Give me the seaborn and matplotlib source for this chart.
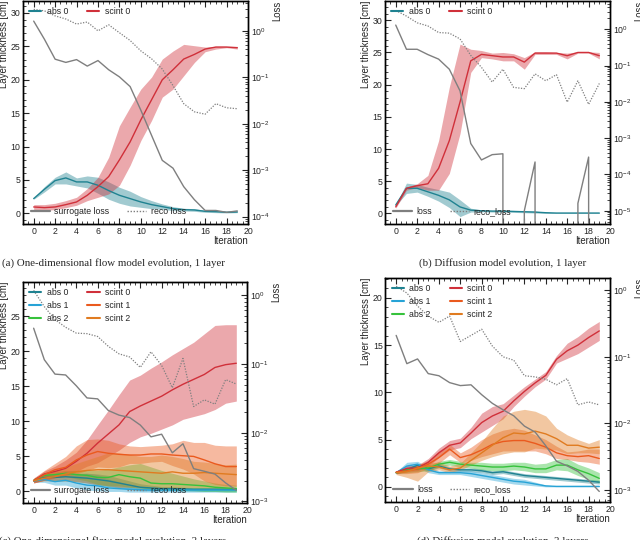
import numpy as np
import matplotlib
matplotlib.use('Agg')
import matplotlib.pyplot as plt
import seaborn as sns
from matplotlib.lines import Line2D
from matplotlib.ticker import MultipleLocator, AutoMinorLocator, LogLocator

# iterations on the x axis
iterations = np.arange(20)

# (a) one-dimensional flow model, 1 layer
a_abs0 = [2.2, 3.6, 4.9, 5.3, 4.7, 4.7, 4.2, 3.4, 2.7, 2.2, 1.7, 1.3, 1.0, 0.7, 0.55, 0.5, 0.3, 0.25, 0.15, 0.2]
a_abs0_lo = [2.1, 3.2, 4.4, 4.4, 4.1, 3.8, 3.0, 2.1, 1.5, 1.1, 0.9, 0.7, 0.6, 0.4, 0.35, 0.3, 0.15, 0.1, 0.05, 0.1]
a_abs0_hi = [2.3, 4.0, 5.4, 6.2, 5.3, 5.6, 5.4, 4.7, 3.9, 3.3, 2.5, 1.9, 1.4, 1.0, 0.75, 0.7, 0.45, 0.4, 0.3, 0.35]
a_scint0 = [0.95, 0.85, 0.95, 1.3, 1.7, 2.7, 4.0, 5.5, 8.0, 10.7, 14.0, 17.0, 20.0, 21.5, 23.1, 23.8, 24.6, 24.9, 24.9, 24.8]
a_scint0_lo = [0.55, 0.45, 0.55, 0.85, 1.2, 1.9, 2.4, 2.9, 4.2, 7.2, 10.9, 13.9, 17.4, 18.6, 20.6, 22.6, 24.2, 24.6, 24.8, 24.6]
a_scint0_hi = [1.3, 1.3, 1.5, 1.9, 2.4, 3.7, 5.4, 8.4, 13.1, 15.9, 18.6, 20.4, 23.1, 24.3, 25.3, 25.1, 24.9, 25.0, 25.0, 25.0]
a_surrogate = [1.62, 0.66, 0.245, 0.209, 0.24, 0.174, 0.229, 0.145, 0.102, 0.063, 0.0195, 0.0056, 0.00162, 0.0011,
               0.00044, 0.00023, 0.000135, 0.000135, 0.000123, 0.000132]
a_reco = [2.9, 2.7, 2.1, 1.8, 1.4, 1.55, 1.0, 1.35, 0.91, 0.62, 0.37, 0.25, 0.15, 0.066, 0.027, 0.018, 0.016, 0.027, 0.022, 0.021]

# (b) diffusion model, 1 layer
b_abs0 = [1.3, 3.9, 3.9, 3.35, 2.8, 2.1, 1.0, 0.5, 0.4, 0.35, 0.35, 0.3, 0.25, 0.2, 0.1, 0.05, 0.05, 0.05, 0.05, 0.05]
b_abs0_lo = [1.2, 3.1, 3.3, 2.65, 1.9, 0.9, -0.5, 0.2, 0.25, 0.2, 0.2, 0.15, 0.1, 0.05, 0.0, 0.0, 0.0, 0.0, 0.0, 0.0]
b_abs0_hi = [1.4, 4.7, 4.5, 4.05, 3.7, 3.3, 2.1, 0.8, 0.55, 0.5, 0.5, 0.45, 0.4, 0.35, 0.2, 0.1, 0.1, 0.1, 0.1, 0.1]
b_scint0 = [1.0, 3.9, 4.3, 4.6, 7.0, 11.3, 17.3, 23.7, 24.7, 24.5, 24.3, 24.3, 23.5, 24.9, 24.9, 24.9, 24.5, 25.0, 25.0, 24.5]
b_scint0_lo = [0.8, 3.6, 4.0, 3.6, 3.6, 6.2, 12.4, 21.9, 24.2, 24.0, 23.7, 23.7, 22.4, 24.7, 24.7, 24.7, 24.0, 24.9, 24.9, 24.0]
b_scint0_hi = [1.2, 4.1, 4.6, 5.9, 11.3, 19.6, 26.3, 25.5, 25.3, 24.9, 25.0, 24.8, 24.2, 25.1, 25.1, 25.0, 24.9, 25.1, 25.1, 25.0]
b_loss = [1.3, 0.28, 0.28, 0.2, 0.15, 0.079, 0.02, 7.1e-4, 2.5e-4, 3.5e-4, 3.7e-4, 0.0, 1.0e-5, 2.2e-4, 0.0, 0.0, 0.0,
          1.6e-5, 3.0e-4, 0.0]
b_reco = [3.3, 2.3, 1.5, 1.23, 0.81, 0.78, 0.54, 0.19, 0.089, 0.035, 0.079, 0.025, 0.023, 0.059, 0.038, 0.056, 0.0098,
          0.038, 0.0085, 0.032]

# (c) one-dimensional flow model, 3 layers
c_abs0 = [1.5, 2.0, 2.0, 2.1, 2.0, 1.9, 1.7, 1.5, 1.2, 0.9, 0.6, 0.5, 0.4, 0.4, 0.35, 0.3, 0.3, 0.3, 0.3, 0.3]
c_abs0_lo = [1.3, 1.6, 1.5, 1.5, 1.4, 1.2, 0.9, 0.7, 0.5, 0.3, 0.1, 0.1, 0.1, 0.1, 0.1, 0.05, 0.05, 0.05, 0.05, 0.05]
c_abs0_hi = [1.7, 2.4, 2.5, 2.7, 2.6, 2.6, 2.5, 2.3, 1.9, 1.5, 1.1, 0.9, 0.7, 0.7, 0.6, 0.55, 0.55, 0.55, 0.55, 0.55]
c_abs1 = [1.5, 1.7, 1.4, 1.6, 1.2, 0.9, 0.8, 0.5, 0.4, 0.3, 0.25, 0.2, 0.2, 0.2, 0.2, 0.2, 0.2, 0.2, 0.2, 0.2]
c_abs1_lo = [1.3, 1.3, 0.9, 0.9, 0.5, 0.2, 0.1, 0.0, 0.0, -0.1, -0.1, -0.1, -0.1, -0.1, -0.1, -0.1, -0.1, -0.1, -0.1, -0.1]
c_abs1_hi = [1.7, 2.1, 1.9, 2.3, 2.5, 2.6, 2.4, 1.8, 1.4, 1.0, 0.7, 0.6, 0.6, 0.5, 0.5, 0.5, 0.5, 0.5, 0.5, 0.5]
c_abs2 = [1.6, 2.3, 2.4, 2.6, 2.4, 2.3, 2.0, 2.0, 2.4, 2.1, 1.9, 1.2, 1.1, 1.1, 1.0, 0.9, 0.8, 0.6, 0.5, 0.4]
c_abs2_lo = [1.4, 2.0, 2.0, 2.1, 1.8, 1.5, 1.0, 0.8, 0.8, 0.6, 0.5, 0.3, 0.3, 0.2, 0.1, 0.1, 0.0, 0.0, -0.1, -0.1]
c_abs2_hi = [1.8, 2.6, 2.8, 3.0, 3.0, 3.1, 3.0, 3.2, 3.5, 3.8, 4.0, 3.5, 3.0, 2.6, 2.2, 1.8, 1.5, 1.2, 1.0, 0.9]
c_scint0 = [1.55, 2.5, 2.85, 3.3, 4.3, 5.45, 6.9, 8.2, 9.5, 11.4, 12.2, 12.9, 13.6, 14.5, 15.3, 16.0, 16.7, 17.7, 18.1, 18.3]
c_scint0_lo = [1.2, 1.6, 1.9, 2.3, 2.85, 3.6, 4.1, 5.0, 5.9, 7.0, 7.8, 8.3, 8.9, 9.5, 10.3, 10.7, 11.1, 11.7, 12.6, 12.9]
c_scint0_hi = [1.9, 2.9, 3.6, 4.5, 5.6, 7.35, 9.5, 11.6, 13.8, 15.9, 16.6, 17.6, 18.5, 19.5, 20.4, 21.3, 22.5, 23.7, 23.8, 23.8]
c_scint1 = [1.55, 2.4, 3.1, 3.45, 4.5, 5.2, 5.7, 5.45, 5.3, 5.2, 5.2, 5.35, 5.35, 5.2, 5.1, 5.0, 4.5, 3.95, 3.55, 3.55]
c_scint1_lo = [1.2, 1.6, 2.0, 2.2, 2.5, 3.0, 3.5, 3.4, 3.5, 4.0, 4.0, 4.2, 4.3, 3.7, 3.2, 2.5, 1.5, 1.0, 0.8, 0.8]
c_scint1_hi = [1.9, 3.0, 4.0, 5.0, 6.5, 7.4, 7.5, 7.3, 6.8, 6.5, 6.4, 6.5, 6.6, 6.8, 7.3, 7.0, 7.0, 6.6, 6.5, 6.5]
c_scint2 = [1.5, 1.9, 2.1, 2.5, 2.8, 3.0, 3.1, 3.1, 3.0, 2.9, 2.8, 2.7, 2.6, 2.8, 2.6, 2.6, 2.7, 2.6, 2.5, 2.4]
c_scint2_lo = [1.3, 1.5, 1.5, 1.5, 1.4, 1.2, 1.0, 0.8, 0.6, 0.6, 0.5, 0.5, 0.5, 0.5, 0.5, 0.5, 0.5, 0.5, 0.5, 0.6]
c_scint2_hi = [1.7, 2.4, 2.9, 3.5, 4.0, 4.5, 5.0, 5.5, 5.5, 5.3, 5.0, 5.0, 5.2, 5.0, 4.7, 4.3, 4.2, 4.0, 3.8, 3.9]
c_surrogate = [0.33, 0.115, 0.071, 0.069, 0.048, 0.032, 0.031, 0.021, 0.018, 0.0166, 0.0129, 0.0087, 0.0095, 0.0051,
               0.0069, 0.0030, 0.00275, 0.0025, 0.00186, 0.00145]
c_reco = [1.17, 0.68, 0.44, 0.34, 0.28, 0.275, 0.25, 0.18, 0.14, 0.126, 0.089, 0.15, 0.095, 0.045, 0.12, 0.024, 0.030,
          0.026, 0.059, 0.051]

# (d) diffusion model, 3 layers
d_abs0 = [1.5, 1.8, 2.3, 1.9, 2.2, 1.9, 1.8, 1.8, 1.7, 1.5, 1.6, 1.4, 1.2, 1.1, 1.0, 0.9, 0.8, 0.7, 0.6, 0.5]
d_abs0_lo = [1.4, 1.6, 2.1, 1.7, 2.0, 1.7, 1.6, 1.6, 1.5, 1.3, 1.4, 1.2, 1.0, 0.9, 0.8, 0.7, 0.6, 0.5, 0.4, 0.3]
d_abs0_hi = [1.6, 2.0, 2.5, 2.1, 2.4, 2.1, 2.0, 2.0, 1.9, 1.7, 1.8, 1.6, 1.4, 1.3, 1.2, 1.1, 1.0, 0.9, 0.8, 0.7]
d_abs1 = [1.5, 2.2, 2.4, 1.8, 1.5, 1.5, 1.5, 1.4, 1.2, 1.0, 0.8, 0.6, 0.5, 0.3, 0.1, 0.05, 0.05, 0.05, 0.05, 0.05]
d_abs1_lo = [1.4, 1.8, 2.1, 1.5, 1.3, 1.3, 1.3, 1.1, 0.9, 0.7, 0.5, 0.3, 0.2, 0.1, 0.0, 0.0, 0.0, 0.0, 0.0, 0.0]
d_abs1_hi = [1.6, 2.6, 2.7, 2.1, 1.7, 1.7, 1.7, 1.7, 1.5, 1.3, 1.1, 0.9, 0.8, 0.5, 0.2, 0.1, 0.1, 0.1, 0.1, 0.1]
d_abs2 = [1.5, 1.8, 1.9, 2.0, 2.4, 2.6, 2.4, 2.3, 2.2, 2.1, 2.1, 2.2, 2.1, 1.9, 1.9, 2.3, 2.3, 1.8, 1.4, 0.9]
d_abs2_lo = [1.4, 1.5, 1.6, 1.7, 2.1, 2.3, 2.1, 2.0, 1.8, 1.7, 1.7, 1.8, 1.7, 1.5, 1.5, 1.8, 1.7, 1.2, 0.8, 0.4]
d_abs2_hi = [1.6, 2.1, 2.2, 2.3, 2.7, 2.9, 2.7, 2.6, 2.6, 2.5, 2.5, 2.6, 2.6, 2.4, 2.5, 2.9, 3.0, 2.4, 2.0, 1.5]
d_scint0 = [1.55, 1.95, 2.0, 2.6, 3.6, 4.4, 4.65, 5.7, 6.8, 7.5, 8.0, 9.1, 10.1, 11.0, 11.8, 13.5, 14.4, 15.0, 15.8, 16.5]
d_scint0_lo = [1.4, 1.65, 1.7, 2.2, 3.1, 3.9, 4.15, 5.1, 5.8, 6.5, 7.2, 8.5, 9.6, 10.6, 11.4, 13.1, 13.6, 14.1, 14.8, 15.5]
d_scint0_hi = [1.7, 2.25, 2.3, 3.0, 4.1, 4.9, 5.15, 6.3, 7.8, 8.5, 8.8, 9.7, 10.6, 11.4, 12.2, 13.9, 15.2, 15.9, 16.8, 17.5]
d_scint1 = [1.55, 1.7, 1.9, 2.4, 3.1, 4.0, 3.1, 3.4, 3.9, 4.5, 4.8, 4.9, 4.9, 4.6, 4.2, 3.6, 3.3, 3.2, 3.3, 3.0]
d_scint1_lo = [1.4, 1.4, 1.5, 2.0, 2.5, 3.4, 2.6, 2.8, 3.2, 3.5, 3.8, 3.8, 3.8, 3.8, 3.5, 3.0, 2.9, 2.7, 2.6, 2.4]
d_scint1_hi = [1.7, 2.0, 2.3, 2.8, 3.8, 4.5, 3.6, 4.2, 5.0, 5.6, 6.0, 6.2, 6.0, 5.5, 5.0, 4.3, 3.7, 3.8, 4.0, 4.0]
d_scint2 = [1.5, 1.6, 2.0, 2.2, 2.1, 1.8, 2.0, 2.8, 3.6, 4.4, 5.2, 5.7, 5.6, 5.9, 5.6, 5.1, 4.4, 4.4, 4.1, 4.2]
d_scint2_lo = [1.3, 1.0, 0.6, 1.6, 1.8, 1.5, 1.8, 2.3, 2.8, 3.2, 3.5, 3.7, 3.7, 4.1, 4.0, 3.9, 3.5, 3.6, 3.6, 3.5]
d_scint2_hi = [1.7, 2.0, 2.4, 2.6, 2.6, 2.2, 2.5, 3.6, 4.8, 6.2, 7.5, 8.0, 8.2, 8.0, 7.5, 6.2, 5.5, 5.0, 4.6, 5.0]
d_loss = [0.21, 0.079, 0.093, 0.056, 0.052, 0.041, 0.037, 0.038, 0.027, 0.020, 0.016, 0.013, 0.0091, 0.0074, 0.0046,
          0.0027, 0.0023, 0.0019, 0.0014, 0.00095]
d_reco = [1.15, 0.91, 0.58, 0.41, 0.33, 0.41, 0.17, 0.21, 0.26, 0.145, 0.10, 0.089, 0.052, 0.050, 0.046, 0.038, 0.047,
          0.019, 0.021, 0.019]

layer_colors = {'abs 0': '#1f8291', 'abs 1': '#27a3d6', 'abs 2': '#36c23c',
                'scint 0': '#d0303a', 'scint 1': '#ea5a1e', 'scint 2': '#e07b20'}
loss_color = '#7f7f7f'

sns.set_theme(style='ticks')
plt.rcParams['font.family'] = ['Liberation Sans', 'DejaVu Sans']
plt.rcParams['mathtext.fontset'] = 'custom'
plt.rcParams['mathtext.rm'] = 'Liberation Sans'
plt.rcParams['axes.linewidth'] = 1.0
plt.rcParams['axes.edgecolor'] = 'black'

fig = plt.figure(figsize=(6.4, 5.4), dpi=100)


def draw_panel(rect, layers, losses, loss_labels, ylim, y2lim, ymax_tick):
    ax = fig.add_axes(rect)
    # thickness bands and means
    for name, mean, lo, hi in layers:
        c = layer_colors[name]
        ax.fill_between(iterations, lo, hi, color=c, alpha=0.42, lw=0)
        sns.lineplot(x=iterations, y=mean, color=c, lw=1.0, ax=ax, legend=False)
    ax.set_xlim(-1, 20)
    ax.set_ylim(*ylim)
    ax.xaxis.set_major_locator(MultipleLocator(2))
    ax.xaxis.set_minor_locator(AutoMinorLocator(4))
    ax.set_yticks(np.arange(0, ymax_tick + 1, 5))
    ax.yaxis.set_minor_locator(AutoMinorLocator(5))
    ax.tick_params(which='both', direction='in', top=True, right=False, labelsize=6.3, pad=2)
    ax.tick_params(which='major', length=4, width=0.8)
    ax.tick_params(which='minor', length=2, width=0.6)
    ax.set_xlabel('Iteration', loc='right', fontsize=6.9, labelpad=0.5)
    ax.set_ylabel('Layer thickness [cm]', loc='top', fontsize=6.9, labelpad=1)

    # loss curves on log axis
    ax2 = ax.twinx()
    sns.lineplot(x=iterations, y=losses[0], color=loss_color, lw=1.0, ax=ax2, legend=False)
    sns.lineplot(x=iterations, y=losses[1], color=loss_color, lw=0.9, ls=(0, (1, 1.2)), ax=ax2, legend=False)
    ax2.set_yscale('log')
    ax2.set_ylim(*y2lim)
    ax2.yaxis.set_major_locator(LogLocator(base=10, numticks=10))
    ax2.tick_params(which='both', direction='in', labelsize=6.3, pad=2)
    ax2.tick_params(which='major', length=4, width=0.8)
    ax2.tick_params(which='minor', length=2, width=0.6)
    ax2.set_ylabel('Loss', loc='top', fontsize=6.9, labelpad=2)

    handles = [Line2D([], [], color=layer_colors[n], lw=1.5) for n, _, _, _ in layers]
    names = [n for n, _, _, _ in layers]
    leg1 = ax2.legend(handles, names, ncol=2, loc='upper left', frameon=False, fontsize=6.3,
                      handlelength=1.4, handletextpad=0.6, columnspacing=2.2, labelspacing=0.45,
                      borderaxespad=0.3)
    ax2.add_artist(leg1)
    loss_handles = [Line2D([], [], color=loss_color, lw=1.6),
                    Line2D([], [], color=loss_color, lw=1.0, ls=(0, (1, 1.2)))]
    ax2.legend(loss_handles, loss_labels, ncol=2, loc='lower left', frameon=False, fontsize=6.3,
               handlelength=2.2, handletextpad=0.5, columnspacing=2.0, borderaxespad=0.5)
    return ax, ax2


draw_panel([0.0359, 0.5852, 0.3516, 0.413],
           [('abs 0', a_abs0, a_abs0_lo, a_abs0_hi), ('scint 0', a_scint0, a_scint0_lo, a_scint0_hi)],
           (a_surrogate, a_reco), ['surrogate loss', 'reco loss'], (-1.6, 31.8), (6.9e-5, 4.4), 30)
draw_panel([0.6016, 0.5852, 0.3516, 0.413],
           [('abs 0', b_abs0, b_abs0_lo, b_abs0_hi), ('scint 0', b_scint0, b_scint0_lo, b_scint0_hi)],
           (b_loss, b_reco), ['loss', 'reco_loss'], (-1.65, 33.0), (4.3e-6, 6.0), 30)
draw_panel([0.0359, 0.0685, 0.35, 0.4093],
           [('abs 0', c_abs0, c_abs0_lo, c_abs0_hi), ('abs 1', c_abs1, c_abs1_lo, c_abs1_hi),
            ('abs 2', c_abs2, c_abs2_lo, c_abs2_hi), ('scint 0', c_scint0, c_scint0_lo, c_scint0_hi),
            ('scint 1', c_scint1, c_scint1_lo, c_scint1_hi), ('scint 2', c_scint2, c_scint2_lo, c_scint2_hi)],
           (c_surrogate, c_reco), ['surrogate loss', 'reco loss'], (-1.65, 29.9), (9.5e-4, 1.55), 25)
draw_panel([0.6023, 0.0704, 0.3508, 0.4148],
           [('abs 0', d_abs0, d_abs0_lo, d_abs0_hi), ('abs 1', d_abs1, d_abs1_lo, d_abs1_hi),
            ('abs 2', d_abs2, d_abs2_lo, d_abs2_hi), ('scint 0', d_scint0, d_scint0_lo, d_scint0_hi),
            ('scint 1', d_scint1, d_scint1_lo, d_scint1_hi), ('scint 2', d_scint2, d_scint2_lo, d_scint2_hi)],
           (d_loss, d_reco), ['loss', 'reco_loss'], (-1.6, 22.1), (6.6e-4, 1.53), 20)

# sub-captions
cap_font = dict(family=['Liberation Serif', 'DejaVu Serif'], fontsize=7.8, ha='center', va='center')
fig.text(113 / 640, 1 - 263 / 540, '(a) One-dimensional flow model evolution, 1 layer', **cap_font)
fig.text(503 / 640, 1 - 263 / 540, '(b) Diffusion model evolution, 1 layer', **cap_font)
fig.text(113 / 640, 1 - 541 / 540, '(c) One-dimensional flow model evolution, 3 layers', **cap_font)
fig.text(503 / 640, 1 - 541 / 540, '(d) Diffusion model evolution, 3 layers', **cap_font)

fig.savefig('out.png', dpi=100)
